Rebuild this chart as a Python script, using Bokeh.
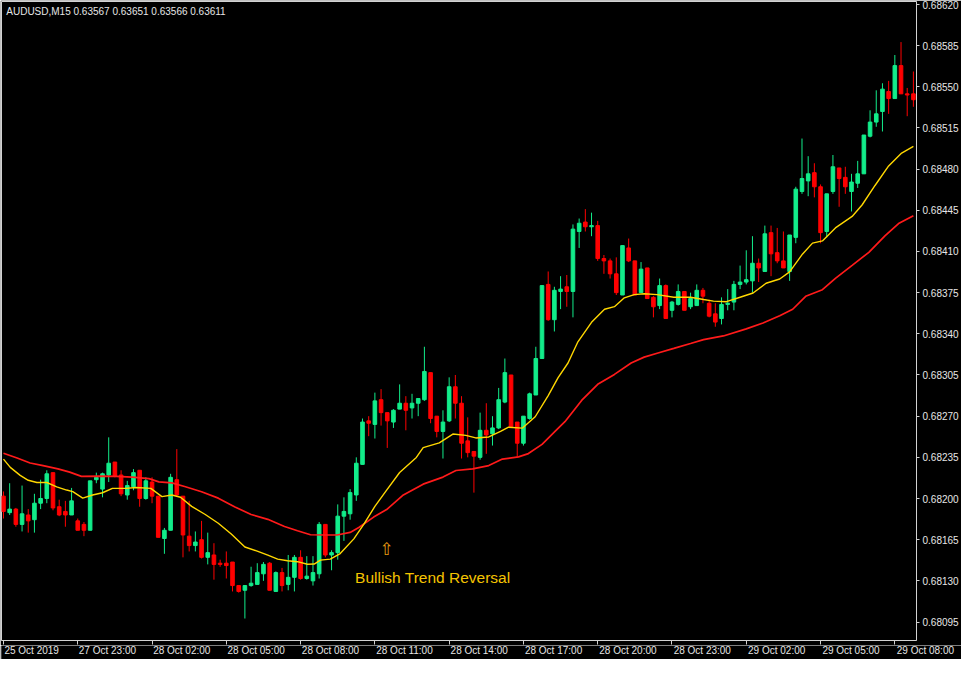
from bokeh.plotting import figure
from bokeh.layouts import column, row
from bokeh.models import Range1d, FixedTicker, PrintfTickFormatter, Label, ColumnDataSource
from bokeh.core.properties import value
from bokeh.embed import file_html
from bokeh.resources import INLINE

# ---- data (AUDUSD M15) ----
opens = [0.68202,0.68188,0.68191,0.68178,0.68186,0.68182,0.68196,0.68200,0.68222,0.68193,
         0.68189,0.68186,0.68181,0.68178,0.68173,0.68216,0.68208,0.68220,0.68231,0.68220,
         0.68203,0.68210,0.68224,0.68200,0.68214,0.68202,0.68166,0.68173,0.68216,0.68202,
         0.68168,0.68160,0.68165,0.68150,0.68152,0.68145,0.68145,0.68146,0.68126,0.68122,
         0.68126,0.68127,0.68136,0.68145,0.68121,0.68137,0.68127,0.68133,0.68150,0.68132,
         0.68130,0.68136,0.68178,0.68152,0.68154,0.68185,0.68187,0.68203,0.68229,0.68266,
         0.68263,0.68284,0.68273,0.68265,0.68276,0.68281,0.68277,0.68281,0.68284,0.68307,
         0.68270,0.68257,0.68266,0.68295,0.68281,0.68249,0.68240,0.68235,0.68258,0.68255,
         0.68260,0.68282,0.68305,0.68265,0.68247,0.68268,0.68288,0.68319,0.68382,0.68352,
         0.68376,0.68380,0.68376,0.68427,0.68435,0.68431,0.68432,0.68404,0.68402,0.68391,
         0.68373,0.68413,0.68402,0.68375,0.68396,0.68371,0.68364,0.68381,0.68360,0.68365,
         0.68376,0.68363,0.68364,0.68377,0.68366,0.68357,0.68353,0.68365,0.68367,0.68382,
         0.68384,0.68385,0.68400,0.68393,0.68426,0.68409,0.68402,0.68393,0.68422,0.68461,
         0.68470,0.68477,0.68465,0.68427,0.68461,0.68481,0.68473,0.68461,0.68468,0.68476,
         0.68508,0.68520,0.68529,0.68546,0.68540,0.68568,0.68544,0.68544]
highs = [0.68206,0.68213,0.68192,0.68211,0.68191,0.68204,0.68216,0.68224,0.68222,0.68199,
         0.68198,0.68209,0.68183,0.68180,0.68215,0.68222,0.68222,0.68252,0.68231,0.68224,
         0.68215,0.68225,0.68224,0.68218,0.68218,0.68202,0.68175,0.68221,0.68242,0.68202,
         0.68198,0.68172,0.68181,0.68171,0.68162,0.68148,0.68155,0.68146,0.68126,0.68126,
         0.68142,0.68145,0.68146,0.68146,0.68138,0.68141,0.68152,0.68152,0.68156,0.68151,
         0.68151,0.68180,0.68178,0.68156,0.68195,0.68201,0.68208,0.68235,0.68268,0.68270,
         0.68290,0.68293,0.68273,0.68276,0.68297,0.68287,0.68289,0.68285,0.68329,0.68307,
         0.68270,0.68275,0.68303,0.68305,0.68287,0.68269,0.68240,0.68273,0.68281,0.68270,
         0.68294,0.68319,0.68305,0.68265,0.68270,0.68290,0.68329,0.68381,0.68393,0.68380,
         0.68389,0.68390,0.68433,0.68438,0.68446,0.68443,0.68436,0.68407,0.68404,0.68405,
         0.68415,0.68421,0.68402,0.68401,0.68396,0.68372,0.68387,0.68382,0.68368,0.68382,
         0.68376,0.68375,0.68382,0.68379,0.68369,0.68366,0.68371,0.68378,0.68385,0.68398,
         0.68411,0.68423,0.68404,0.68432,0.68432,0.68430,0.68427,0.68424,0.68465,0.68506,
         0.68491,0.68485,0.68467,0.68459,0.68492,0.68481,0.68482,0.68476,0.68487,0.68509,
         0.68530,0.68547,0.68553,0.68555,0.68577,0.68588,0.68549,0.68563]
lows = [0.68183,0.68186,0.68176,0.68172,0.68171,0.68171,0.68191,0.68196,0.68190,0.68185,
        0.68176,0.68186,0.68173,0.68168,0.68173,0.68213,0.68201,0.68214,0.68218,0.68202,
        0.68199,0.68207,0.68193,0.68199,0.68196,0.68167,0.68153,0.68173,0.68202,0.68150,
        0.68155,0.68155,0.68149,0.68144,0.68131,0.68142,0.68132,0.68121,0.68120,0.68098,
        0.68125,0.68127,0.68130,0.68122,0.68121,0.68121,0.68122,0.68121,0.68131,0.68131,
        0.68126,0.68132,0.68150,0.68139,0.68148,0.68164,0.68182,0.68198,0.68229,0.68253,
        0.68251,0.68262,0.68243,0.68260,0.68276,0.68258,0.68268,0.68270,0.68283,0.68264,
        0.68252,0.68234,0.68265,0.68268,0.68234,0.68235,0.68205,0.68233,0.68238,0.68245,
        0.68259,0.68281,0.68260,0.68235,0.68245,0.68267,0.68288,0.68319,0.68351,0.68342,
        0.68361,0.68363,0.68354,0.68413,0.68427,0.68423,0.68402,0.68391,0.68387,0.68373,
        0.68373,0.68401,0.68373,0.68375,0.68370,0.68354,0.68361,0.68353,0.68354,0.68364,
        0.68360,0.68361,0.68364,0.68366,0.68354,0.68346,0.68348,0.68360,0.68360,0.68378,
        0.68382,0.68375,0.68384,0.68393,0.68389,0.68400,0.68396,0.68385,0.68417,0.68459,
        0.68457,0.68456,0.68417,0.68422,0.68459,0.68448,0.68459,0.68444,0.68464,0.68476,
        0.68507,0.68516,0.68512,0.68527,0.68540,0.68544,0.68525,0.68533]
closes = [0.68189,0.68191,0.68178,0.68187,0.68181,0.68196,0.68200,0.68221,0.68192,0.68186,
          0.68186,0.68198,0.68173,0.68173,0.68215,0.68218,0.68221,0.68230,0.68219,0.68204,
          0.68211,0.68222,0.68200,0.68215,0.68202,0.68167,0.68173,0.68218,0.68203,0.68169,
          0.68160,0.68163,0.68150,0.68154,0.68144,0.68144,0.68143,0.68126,0.68121,0.68126,
          0.68128,0.68137,0.68144,0.68122,0.68137,0.68126,0.68133,0.68150,0.68132,0.68134,
          0.68137,0.68178,0.68152,0.68154,0.68185,0.68189,0.68205,0.68230,0.68265,0.68264,
          0.68283,0.68273,0.68266,0.68275,0.68281,0.68275,0.68281,0.68285,0.68308,0.68268,
          0.68257,0.68265,0.68295,0.68281,0.68247,0.68239,0.68236,0.68258,0.68254,0.68260,
          0.68284,0.68307,0.68261,0.68247,0.68270,0.68289,0.68319,0.68381,0.68352,0.68377,
          0.68378,0.68376,0.68429,0.68434,0.68431,0.68432,0.68404,0.68402,0.68391,0.68375,
          0.68415,0.68402,0.68373,0.68395,0.68370,0.68363,0.68381,0.68353,0.68367,0.68376,
          0.68360,0.68370,0.68377,0.68372,0.68355,0.68350,0.68365,0.68366,0.68382,0.68384,
          0.68386,0.68400,0.68396,0.68425,0.68408,0.68402,0.68396,0.68424,0.68463,0.68472,
          0.68476,0.68465,0.68426,0.68459,0.68482,0.68472,0.68465,0.68469,0.68476,0.68509,
          0.68520,0.68527,0.68548,0.68540,0.68568,0.68544,0.68543,0.68539]

# moving averages, read at sampled bar positions
ma_fast_x = [0,1.1,2.7,4.0,5.4,7.0,8.6,10.2,11.2,12.8,14.4,16.0,17.6,19.8,21.4,23.8,25.6,27.2,28.6,
             30.4,32.6,34.7,36.8,39.0,41.1,42.7,44.3,45.9,47.5,49.1,50.2,51.2,52.8,54.4,56.6,58.2,
             60.0,61.9,64.0,66.7,67.8,70.4,72.6,74.7,76.3,78.4,80.3,81.6,83.8,85.9,88.0,89.6,91.2,
             92.8,95.0,97.1,98.7,100.3,101.9,103.5,105.6,108.3,111.0,113.1,114.7,116.8,119.0,121.1,
             123.2,125.4,127.0,129.1,130.7,132.3,134.4,137.1,138.7,140.8,143.0,145.1,147.0]
ma_fast_y = [0.682335,0.682265,0.682197,0.682155,0.682136,0.682136,0.682099,0.682072,0.682058,0.682003,
             0.682030,0.682049,0.682086,0.682086,0.682094,0.682086,0.682016,0.682030,0.682011,
             0.681933,0.681864,0.681790,0.681698,0.681588,0.681551,0.681518,0.681485,0.681471,0.681463,
             0.681441,0.681443,0.681476,0.681485,0.681532,0.681657,0.681781,
             0.681933,0.682072,0.682221,0.682349,0.682432,0.682473,0.682548,0.682537,0.682515,0.682523,
             0.682570,0.682606,0.682598,0.682695,0.682875,0.683027,0.683152,
             0.683332,0.683498,0.683609,0.683631,0.683706,0.683733,0.683741,0.683733,0.683711,0.683711,
             0.683692,0.683678,0.683673,0.683711,0.683747,
             0.683830,0.683866,0.683927,0.684079,0.684171,0.684190,0.684300,0.684398,0.684495,0.684661,
             0.684827,0.684937,0.684993]
ma_slow_x = [0,2.2,4.3,6.4,8.8,10.7,12.6,15.5,18.2,20.8,23.5,25.1,27.2,29.4,32.0,34.7,37.4,40.0,
             42.7,45.4,47.5,49.6,52.3,53.9,56.0,57.4,59.8,61.9,64.6,67.8,71.0,73.1,75.8,78.4,80.6,
             83.2,84.8,87.0,89.1,90.7,93.4,96.0,98.7,101.4,103.5,105.6,108.3,111.0,113.1,116.3,
             120.0,122.7,125.4,127.5,129.6,132.3,134.4,137.1,139.8,142.4,144.6,147.0]
ma_slow_y = [0.682385,0.682344,0.682302,0.682280,0.682252,0.682224,0.682188,0.682191,0.682188,0.682182,
             0.682169,0.682141,0.682133,0.682100,0.682058,0.682003,0.681928,0.681864,
             0.681823,0.681762,0.681726,0.681692,0.681690,0.681690,0.681712,0.681754,0.681842,0.681906,
             0.682030,0.682122,0.682182,0.682238,0.682252,0.682280,0.682335,
             0.682354,0.682382,0.682460,0.682570,0.682653,0.682834,0.682971,0.683055,0.683152,0.683202,
             0.683235,0.683276,0.683318,0.683351,0.683382,
             0.683442,0.683492,0.683553,0.683609,0.683719,0.683775,0.683872,0.683982,0.684093,0.684232,
             0.684337,0.684403]

xtick_bars = [0, 12, 24, 36, 48, 60, 72, 84, 96, 108, 120, 132, 144]
xtick_labels = ["25 Oct 2019", "27 Oct 23:00", "28 Oct 02:00", "28 Oct 05:00", "28 Oct 08:00",
                "28 Oct 11:00", "28 Oct 14:00", "28 Oct 17:00", "28 Oct 20:00", "28 Oct 23:00",
                "29 Oct 02:00", "29 Oct 05:00", "29 Oct 08:00"]
ytick_values = [0.68095, 0.68130, 0.68165, 0.68200, 0.68235, 0.68270, 0.68305, 0.68340,
                0.68375, 0.68410, 0.68445, 0.68480, 0.68515, 0.68550, 0.68585, 0.68620]

title_text = "AUDUSD,M15  0.63567 0.63651 0.63566 0.63611"
note_text = "Bullish Trend Reversal"

BULL = "#12EC8A"
BEAR = "#FF0000"
FG = "#E6E6E6"
FRAME = "#D2D2D2"

X0, X1 = -0.32, 147.5
Y0, Y1 = 0.680793, 0.686225
W = 961
H_MAIN = 645
H_LAB = 14
RIGHT = 44

idx = list(range(len(opens)))
colors = [BULL if c >= o else BEAR for o, c in zip(opens, closes)]
src = ColumnDataSource(dict(
    x=idx, o=opens, h=highs, l=lows, c=closes,
    top=[max(o, c) for o, c in zip(opens, closes)],
    bot=[min(o, c) for o, c in zip(opens, closes)],
    col=colors))

p = figure(width=W, height=H_MAIN, output_backend="svg", toolbar_location=None,
           x_range=Range1d(X0, X1), y_range=Range1d(Y0, Y1),
           x_axis_location="below", y_axis_location="right",
           background_fill_color="black", border_fill_color="black",
           min_border_left=1, min_border_top=1, min_border_right=RIGHT, min_border_bottom=5)
p.grid.visible = False
p.outline_line_color = FRAME
p.outline_line_width = 1

yax = p.yaxis[0]
yax.ticker = FixedTicker(ticks=ytick_values)
yax.formatter = PrintfTickFormatter(format="%.5f")
yax.axis_line_color = None
yax.major_tick_line_color = FRAME
yax.major_tick_in = 0
yax.major_tick_out = 3
yax.minor_tick_line_color = None
yax.major_label_standoff = 3
yax.major_label_text_color = FG
yax.major_label_text_font = "Liberation Sans"
yax.major_label_text_font_size = "10px"

# x axis of the main chart: tick marks only
xax = p.xaxis[0]
xax.ticker = FixedTicker(ticks=xtick_bars, minor_ticks=[])
xax.major_label_overrides = {t: "" for t in xtick_bars}
xax.major_label_text_font_size = "0px"
xax.major_label_standoff = 0
xax.axis_line_color = None
xax.major_tick_line_color = FRAME
xax.major_tick_in = 0
xax.major_tick_out = 4
xax.minor_tick_line_color = None

p.segment(x0="x", y0="l", x1="x", y1="h", line_color="col", line_width=1, source=src)
p.vbar(x="x", width=0.58, top="top", bottom="bot", fill_color="col", line_color="col",
       line_width=1, source=src)

p.line(ma_slow_x, ma_slow_y, line_color="#FF1A1A", line_width=1.7)
p.line(ma_fast_x, ma_fast_y, line_color="#FFD700", line_width=1.4)

p.add_layout(Label(x=0.45, y=0.68614, text=title_text, text_color=FG, text_font="Liberation Sans",
                   text_font_size="10px", text_baseline="middle", text_align="left"))
p.add_layout(Label(x=56.8, y=0.681325, text=note_text, text_color="#F5C400",
                   text_font="Liberation Sans", text_font_size="15.5px",
                   text_baseline="middle", text_align="left"))
p.add_layout(Label(x=61.9, y=0.681574, text="\u21e7", text_color="#E89B10",
                   text_font="DejaVu Sans", text_font_size="17px",
                   text_baseline="middle", text_align="center"))

# strip under the chart carrying the left-aligned date labels, same bar scale
frame_w = W - 1 - RIGHT
bars_per_px = (X1 - X0) / frame_w
q = figure(width=W, height=H_LAB, output_backend="svg", toolbar_location=None,
           x_range=Range1d(X0, X0 + (W - 1) * bars_per_px), y_range=Range1d(0, 1),
           x_axis_type=None, y_axis_type=None,
           background_fill_color="black", border_fill_color="black",
           min_border_left=1, min_border_right=0, min_border_top=0, min_border_bottom=0)
q.grid.visible = False
q.outline_line_color = None
q.text(x=[t + 0.15 for t in xtick_bars], y=[0.62] * len(xtick_bars), text=xtick_labels,
       text_color=FG, text_font=value("Liberation Sans"), text_font_size="10px",
       text_baseline="middle", text_align="left")

layout = column(p, row(q), spacing=0)
open("out.html", "w").write(file_html(layout, INLINE))
